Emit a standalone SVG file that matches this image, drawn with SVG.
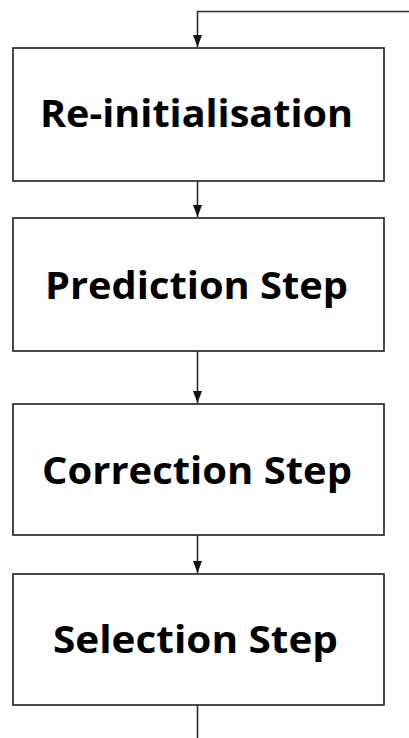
<svg xmlns="http://www.w3.org/2000/svg" width="409" height="738" viewBox="0 0 409 738">
  <style>
    .box { fill: #ffffff; stroke: #2b2b2b; stroke-width: 1.7; }
    .label { font-family: "Open Sans", "Liberation Sans", sans-serif; font-weight: bold; font-size: 38px; fill: #000000; text-anchor: middle; font-variant-ligatures: none; }
    .wire { fill: none; stroke: #2b2b2b; stroke-width: 1.6; }
  </style>
  <defs>
    <!-- solid arrowhead, 12 long by 9 wide -->
    <marker id="arrow" viewBox="0 0 12 10" refX="12" refY="5" markerWidth="12" markerHeight="10" markerUnits="userSpaceOnUse" orient="auto">
      <path d="M0,0.5 L12,5 L0,9.5 Z" fill="#111111"/>
    </marker>
  </defs>

  <rect width="409" height="738" fill="#ffffff"/>

  <g id="connectors">
    <path class="wire" d="M409,11.5 H197.5 V47" marker-end="url(#arrow)"/>
    <path class="wire" d="M197.5,181 V217" marker-end="url(#arrow)"/>
    <path class="wire" d="M197.5,351 V403" marker-end="url(#arrow)"/>
    <path class="wire" d="M197.5,535 V573" marker-end="url(#arrow)"/>
    <path class="wire" d="M197.5,705 V738"/>
  </g>

  <g id="reinitialisation">
    <rect class="box" x="13" y="48" width="371" height="133"/>
    <text class="label" x="196.5" y="127" font-size="36" textLength="313" lengthAdjust="spacingAndGlyphs">Re-initialisation</text>
  </g>
  <g id="prediction">
    <rect class="box" x="13" y="218" width="371" height="133"/>
    <text class="label" x="196.5" y="299" textLength="303" lengthAdjust="spacingAndGlyphs">Prediction Step</text>
  </g>
  <g id="correction">
    <rect class="box" x="13" y="404" width="371" height="131"/>
    <text class="label" x="197" y="483.5" textLength="310" lengthAdjust="spacingAndGlyphs">Correction Step</text>
  </g>
  <g id="selection">
    <rect class="box" x="13" y="574" width="371" height="131"/>
    <text class="label" x="195.5" y="653" textLength="285" lengthAdjust="spacingAndGlyphs">Selection Step</text>
  </g>
</svg>
